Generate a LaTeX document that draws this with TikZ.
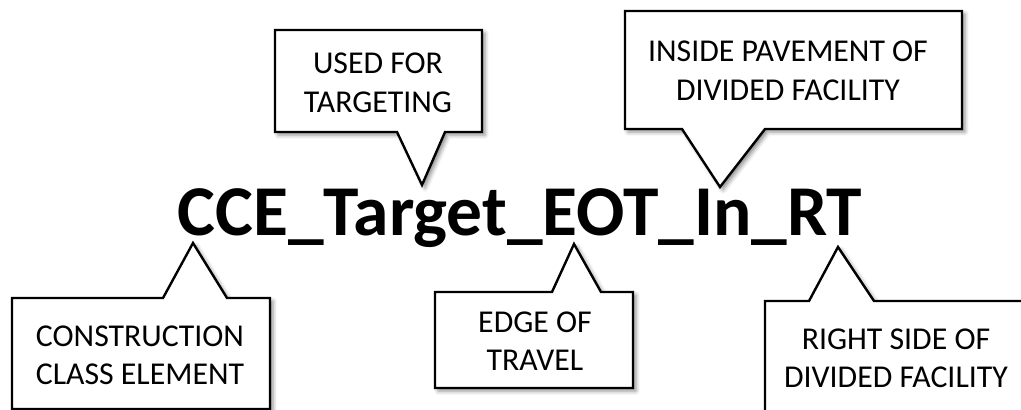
\documentclass[tikz,border=0pt]{standalone}
\usepackage{fontspec}
\setmainfont{Carlito}
\usetikzlibrary{shadows.blur}
\tikzset{
  callout/.style={draw=black, line width=2.4pt, fill=white, line join=miter,
    blur shadow={shadow xshift=3pt, shadow yshift=-3pt, shadow blur radius=4pt, shadow opacity=45}},
  calltext/.style={align=center, inner sep=0pt, font=\fontsize{31.8}{38.5}\selectfont},
  titletext/.style={inner sep=0pt, font=\fontsize{71.5}{86}\selectfont\bfseries}
}
\begin{document}
\begin{tikzpicture}[x=1pt,y=-1pt]
\useasboundingbox (0,0) rectangle (1021,410);
\clip (0,0) rectangle (1021,410);
% top callouts
\draw[callout] (275,30) -- (482,30) -- (482,132) -- (445,132) -- (422,185) -- (397,132) -- (275,132) -- cycle;
\draw[callout] (625,11) -- (962,11) -- (962,129) -- (765,129) -- (720,187) -- (682,129) -- (625,129) -- cycle;
% bottom callouts
\draw[callout] (12,298) -- (163,298) -- (193,243) -- (227,298) -- (270,298) -- (270,409) -- (12,409) -- cycle;
\draw[callout] (435,292) -- (552,292) -- (574,244) -- (601,292) -- (633,292) -- (633,388) -- (435,388) -- cycle;
\draw[callout] (765,301) -- (809,301) -- (838,247) -- (874,301) -- (1040,301) -- (1040,430) -- (765,430) -- cycle;
% texts
\node[calltext] (used) at (378,83) {USED FOR\\TARGETING};
\node[calltext] (inside) at (788,71) {INSIDE PAVEMENT OF\\DIVIDED FACILITY};
\node[calltext] (cce) at (140,355.5) {CONSTRUCTION\\CLASS ELEMENT};
\node[calltext] (eot) at (535,341) {EDGE OF\\TRAVEL};
\node[calltext] (rt) at (896,358.5) {RIGHT SIDE OF\\DIVIDED FACILITY};
\node[titletext, anchor=base] (title) at (520,235) {CCE\_Target\_EOT\_In\_RT};
\end{tikzpicture}
\end{document}
